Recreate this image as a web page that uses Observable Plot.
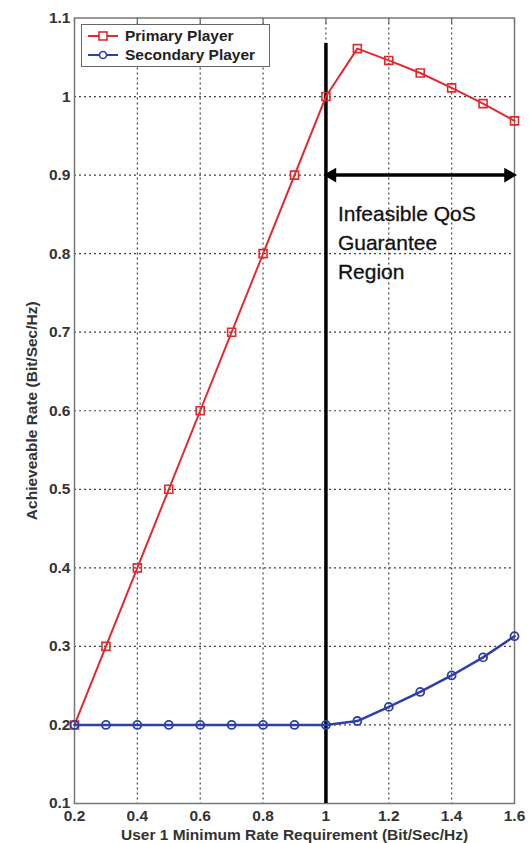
<!DOCTYPE html>
<html>
<head>
<meta charset="utf-8">
<script src="https://cdn.jsdelivr.net/npm/d3@7"></script>
<script src="https://cdn.jsdelivr.net/npm/@observablehq/plot@0.6"></script>
<style>
  body { margin: 0; background: #fff; font-family: "Liberation Sans", Arial, sans-serif; }
  #wrap { position: relative; width: 529px; height: 843px; }
  #legend { position: absolute; left: 81px; top: 24px; width: 189px; height: 43px; border: 1.5px solid #666; background: #fff; box-sizing: border-box; font: bold 15.5px "Liberation Sans", Arial, sans-serif; color: #222; }
  #legend .row { position: absolute; left: 0; height: 20px; display: flex; align-items: center; white-space: nowrap; }
  #legend svg { margin-left: 6px; margin-right: 7px; }
</style>
</head>
<body>
<div id="wrap"></div>
<script>
const rates = [0.2, 0.3, 0.4, 0.5, 0.6, 0.7, 0.8, 0.9, 1.0, 1.1, 1.2, 1.3, 1.4, 1.5, 1.6];
const primary = [0.2, 0.3, 0.4, 0.5, 0.6, 0.7, 0.8, 0.9, 1.0, 1.061, 1.046, 1.030, 1.011, 0.991, 0.969];
const secondary = [0.2, 0.2, 0.2, 0.2, 0.2, 0.2, 0.2, 0.2, 0.2, 0.205, 0.223, 0.242, 0.263, 0.286, 0.313];
const xTicks = [0.2, 0.4, 0.6, 0.8, 1, 1.2, 1.4, 1.6];
const yTicks = [0.1, 0.2, 0.3, 0.4, 0.5, 0.6, 0.7, 0.8, 0.9, 1, 1.1];
const seriesNames = ["Primary Player", "Secondary Player"];
const boundaryX = [1.0];
const boundaryTop = 1.0675;
const arrowY = 0.9;
const arrowSpan = [1.0, 1.6];
const regionLabel = ["Infeasible QoS\nGuarantee\nRegion"];
const regionLabelY = 0.868;

const red = "#e02a2e";
const blue = "#2e3fa6";

const pData = rates.map((r, i) => ({x: r, y: primary[i]}));
const sData = rates.map((r, i) => ({x: r, y: secondary[i]}));
const arrowLine = [{x1: arrowSpan[0], x2: arrowSpan[1], y: arrowY}];
const headL = [{x: arrowSpan[0], y: arrowY}];
const headR = [{x: arrowSpan[1], y: arrowY}];
const fmt = d => String(+d.toFixed(1));

const chart = Plot.plot({
  width: 529,
  height: 843,
  marginLeft: 74,
  marginRight: 15,
  marginTop: 17.5,
  marginBottom: 40,
  style: {fontFamily: "'Liberation Sans', Arial, sans-serif", background: "#fff"},
  x: {type: "linear", domain: [0.2, 1.6]},
  y: {type: "linear", domain: [0.1, 1.1]},
  marks: [
    Plot.gridX(xTicks.slice(1, -1), {stroke: "#444", strokeOpacity: 1, strokeWidth: 1.2, strokeDasharray: "2,3"}),
    Plot.gridY(yTicks.slice(1, -1), {stroke: "#444", strokeOpacity: 1, strokeWidth: 1.2, strokeDasharray: "2,3"}),
    Plot.axisX({ticks: xTicks, tickSize: 0, tickPadding: 6, fontSize: 15.5, fontWeight: "bold", fill: "#333",
      label: "User 1 Minimum Rate Requirement (Bit/Sec/Hz)", labelAnchor: "center", labelArrow: "none", labelOffset: 36,
      tickFormat: fmt}),
    Plot.axisY({ticks: yTicks, tickSize: 0, tickPadding: 4, fontSize: 15.5, fontWeight: "bold", fill: "#333",
      label: "Achieveable Rate (Bit/Sec/Hz)", labelAnchor: "center", labelArrow: "none", labelOffset: 49,
      tickFormat: fmt}),
    Plot.axisX({anchor: "top", ticks: xTicks, tickSize: -5, tickFormat: () => "", label: null, stroke: "#666", strokeWidth: 1.2}),
    Plot.frame({stroke: "#777", strokeWidth: 1.5}),
    Plot.ruleX(boundaryX, {x: d => d, y1: 0.1, y2: boundaryTop, stroke: "#000", strokeWidth: 3.5}),
    Plot.ruleY(arrowLine, {x1: "x1", x2: "x2", y: "y", stroke: "#000", strokeWidth: 3.5, insetLeft: 6, insetRight: 6}),
    Plot.dot(headL, {x: "x", y: "y", symbol: "triangle", rotate: -90, r: 5.5, fill: "#000", stroke: "none", dx: 6}),
    Plot.dot(headR, {x: "x", y: "y", symbol: "triangle", rotate: 90, r: 5.5, fill: "#000", stroke: "none", dx: -6}),
    Plot.text(regionLabel, {x: () => boundaryX[0], y: () => regionLabelY, text: d => d, dx: 12, textAnchor: "start", lineAnchor: "top",
      fontSize: 21, lineHeight: 1.38, fill: "#111", stroke: "#111", strokeWidth: 0.3}),
    Plot.line(pData, {x: "x", y: "y", stroke: red, strokeWidth: 2}),
    Plot.line(sData, {x: "x", y: "y", stroke: blue, strokeWidth: 2.5}),
    Plot.dot(pData, {x: "x", y: "y", symbol: "square", r: 4.5, stroke: red, strokeWidth: 1.6, fill: "none"}),
    Plot.dot(sData, {x: "x", y: "y", symbol: "circle", r: 4, stroke: blue, strokeWidth: 1.8, fill: "none"})
  ]
});

const wrap = document.getElementById("wrap");
wrap.appendChild(chart);

const legend = document.createElement("div");
legend.id = "legend";
const rowDefs = [
  {name: seriesNames[0], color: red, sym: "square"},
  {name: seriesNames[1], color: blue, sym: "circle"}
];
rowDefs.forEach((d, i) => {
  const row = document.createElement("div");
  row.className = "row";
  row.style.top = (1 + i * 19) + "px";
  const ns = "http://www.w3.org/2000/svg";
  const s = document.createElementNS(ns, "svg");
  s.setAttribute("width", "30"); s.setAttribute("height", "12");
  const ln = document.createElementNS(ns, "line");
  ln.setAttribute("x1", 0); ln.setAttribute("x2", 30); ln.setAttribute("y1", 6); ln.setAttribute("y2", 6);
  ln.setAttribute("stroke", d.color); ln.setAttribute("stroke-width", 2);
  s.appendChild(ln);
  let m;
  if (d.sym === "square") {
    m = document.createElementNS(ns, "rect");
    m.setAttribute("x", 11); m.setAttribute("y", 2); m.setAttribute("width", 8); m.setAttribute("height", 8);
  } else {
    m = document.createElementNS(ns, "circle");
    m.setAttribute("cx", 15); m.setAttribute("cy", 6); m.setAttribute("r", 3.5);
  }
  m.setAttribute("fill", "#fff"); m.setAttribute("stroke", d.color); m.setAttribute("stroke-width", 1.6);
  s.appendChild(m);
  row.appendChild(s);
  const t = document.createElement("span");
  t.textContent = d.name;
  row.appendChild(t);
  legend.appendChild(row);
});
wrap.appendChild(legend);
</script>
</body>
</html>
